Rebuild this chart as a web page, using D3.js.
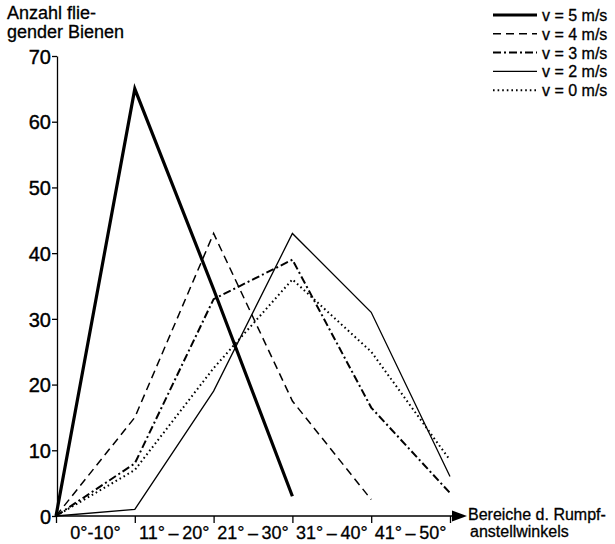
<!DOCTYPE html>
<html><head><meta charset="utf-8">
<script src="https://cdn.jsdelivr.net/npm/d3@7"></script>
<style>body{margin:0;background:#fff}svg{display:block}</style>
</head><body>
<svg id="c" width="615" height="544"></svg>
<script>
// ---- data ----
const categories = ["0°-10°", "11°\u2009–\u200920°", "21°\u2009–\u200930°", "31°\u2009–\u200940°", "41°\u2009–\u200950°"];
const yTicks = [0, 10, 20, 30, 40, 50, 60, 70];
const v5 = [0, 65, 34.5, 3];
const v4 = [0, 15, 43, 17.5, 2.5];
const v3 = [0, 8, 33, 39, 16.5, 3.5];
const v2 = [0, 1, 19, 43, 31, 6];
const v0 = [0, 7, 22.5, 36, 25, 8.5];
const seriesNames = ["v = 5 m/s", "v = 4 m/s", "v = 3 m/s", "v = 2 m/s", "v = 0 m/s"];
const yTitle = ["Anzahl flie-", "gender Bienen"];
const xTitle = ["Bereiche d. Rumpf-", "anstellwinkels"];

const styles = [
  {w: 3.2, dash: null},
  {w: 1.5, dash: "8,5"},
  {w: 2, dash: "8,3,2,3"},
  {w: 1.3, dash: null},
  {w: 2, dash: "1.6,3"}
];
const series = [v5, v4, v3, v2, v0];

const svg = d3.select("#c");
const font = "'Liberation Sans', Arial, sans-serif";
const x = d3.scaleLinear().domain([0, 5]).range([56, 450]);
const y = d3.scaleLinear().domain([0, 70]).range([516, 56]);

// y axis
const ya = svg.append("g").attr("transform", "translate(57,0)")
  .call(d3.axisLeft(y).tickValues(yTicks).tickSize(5).tickSizeOuter(0).tickPadding(1));
ya.select(".domain").attr("stroke", "#000").attr("stroke-width", 1.3);
ya.selectAll(".tick line").attr("stroke", "#000").attr("stroke-width", 1.3);
ya.selectAll(".tick text").attr("font-family", font).attr("font-size", 20)
  .attr("fill", "#000").attr("dy", "0.36em").attr("stroke", "#000").attr("stroke-width", 0.4);

// x axis
const xa = svg.append("g").attr("transform", "translate(0,516)")
  .call(d3.axisBottom(x).tickValues([0, 1, 2, 3, 4, 5]).tickSize(7).tickSizeOuter(0).tickFormat(""));
xa.select(".domain").remove();
xa.selectAll(".tick line").attr("stroke", "#000").attr("stroke-width", 1.3);
svg.append("line").attr("x1", x(0)).attr("x2", 456).attr("y1", y(0)).attr("y2", y(0))
  .attr("stroke", "#000").attr("stroke-width", 1.5);
svg.append("path").attr("d", `M452,${y(0)-5.5}L467,${y(0)}L452,${y(0)+5.5}Z`).attr("fill", "#000");

svg.append("g").selectAll("text").data(categories).join("text")
  .attr("x", (d, i) => x(i + 0.5)).attr("y", 539)
  .attr("text-anchor", "middle").attr("font-family", font).attr("font-size", 18)
  .attr("stroke", "#000").attr("stroke-width", 0.3)
  .text(d => d);

// titles
svg.append("g").selectAll("text").data(yTitle).join("text")
  .attr("x", 7).attr("y", (d, i) => 19 + i * 19)
  .attr("font-family", font).attr("font-size", 18)
  .attr("stroke", "#000").attr("stroke-width", 0.3).text(d => d);
svg.append("g").selectAll("text").data(xTitle).join("text")
  .attr("x", (d, i) => 468 + i * 2).attr("y", (d, i) => 520 + i * 17)
  .attr("font-family", font).attr("font-size", 16)
  .attr("stroke", "#000").attr("stroke-width", 0.3).text(d => d);

// lines
const line = d3.line().x((d, i) => x(i)).y(d => y(d));
svg.append("g").selectAll("path").data(series).join("path")
  .attr("d", d => line(d)).attr("fill", "none").attr("stroke", "#000")
  .attr("stroke-width", (d, i) => styles[i].w)
  .attr("stroke-dasharray", (d, i) => styles[i].dash)
  .attr("stroke-linejoin", "miter");

// legend
const lg = svg.append("g").selectAll("g").data(seriesNames).join("g")
  .attr("transform", (d, i) => `translate(0,${15 + i * 18.8})`);
lg.append("line").attr("x1", 493).attr("x2", 537).attr("y1", 0).attr("y2", 0)
  .attr("stroke", "#000")
  .attr("stroke-width", (d, i) => styles[i].w)
  .attr("stroke-dasharray", (d, i) => styles[i].dash);
lg.append("text").attr("x", 542).attr("y", 6).attr("font-family", font)
  .attr("font-size", 16).attr("stroke", "#000").attr("stroke-width", 0.3).text(d => d);
</script>
</body></html>
